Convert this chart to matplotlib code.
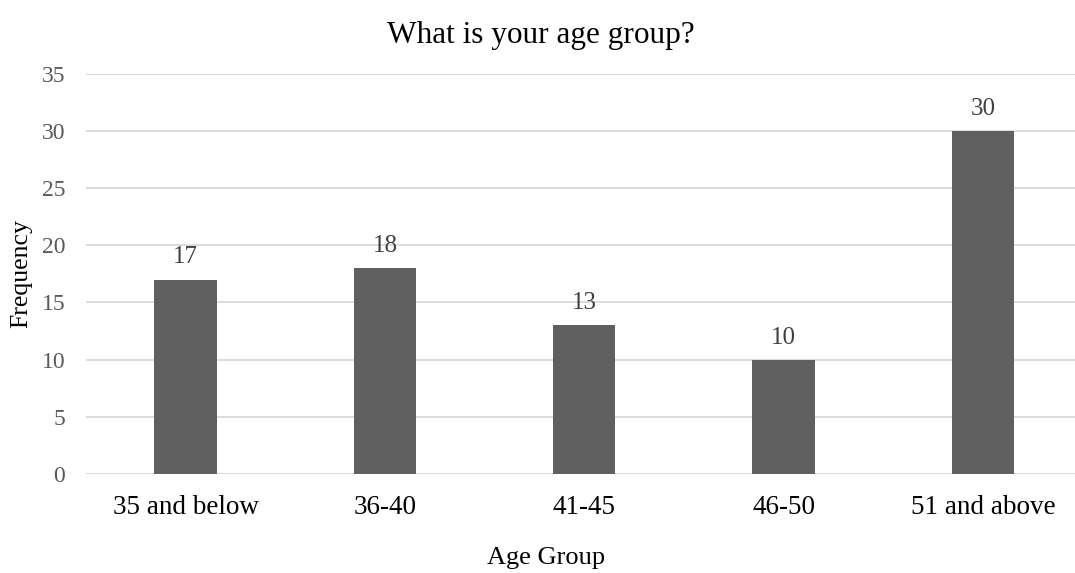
import matplotlib.pyplot as plt

# Survey responses by age group
age_groups = ['35 and below', '36-40', '41-45', '46-50', '51 and above']
frequency = [17, 18, 13, 10, 30]

plt.rcParams['font.family'] = ['Liberation Serif', 'DejaVu Serif']

fig = plt.figure(figsize=(10.75, 5.73), dpi=100)
ax = fig.add_axes([86 / 1075, 99 / 573, 996.5 / 1075, 400.3 / 573])

x = range(len(age_groups))
bars = ax.bar(x, frequency, width=0.313, color='#606060', zorder=3)

# value labels above bars
for b, v in zip(bars, frequency):
    ax.annotate(str(v), (b.get_x() + b.get_width() / 2, v),
                xytext=(0, 8), textcoords='offset points',
                ha='center', va='bottom', fontsize=18, color='#404040')

ax.set_xlim(-0.5, len(age_groups) - 0.5)
ax.set_ylim(0, 35)
ax.set_yticks(range(0, 36, 5))
ax.set_xticks(list(x))
ax.set_xticklabels(age_groups, fontsize=19.5, color='black')
ax.tick_params(axis='y', labelsize=17, labelcolor='#595959', length=0, pad=15)
ax.tick_params(axis='x', length=0, pad=15)

ax.grid(axis='y', color='#d9d9d9', linewidth=1.3, zorder=0)
for s in ax.spines.values():
    s.set_visible(False)

fig.text(0.503, 1 - 35 / 573, 'What is your age group?', ha='center', va='center',
         fontsize=22.5, color='black')
fig.text(21 / 1075, 1 - 274 / 573, 'Frequency', ha='center', va='center',
         rotation=90, fontsize=18.5, color='black')
fig.text(546 / 1075, 1 - 558 / 573, 'Age Group', ha='center', va='center',
         fontsize=19, color='black')

fig.savefig('out.png', dpi=100)
